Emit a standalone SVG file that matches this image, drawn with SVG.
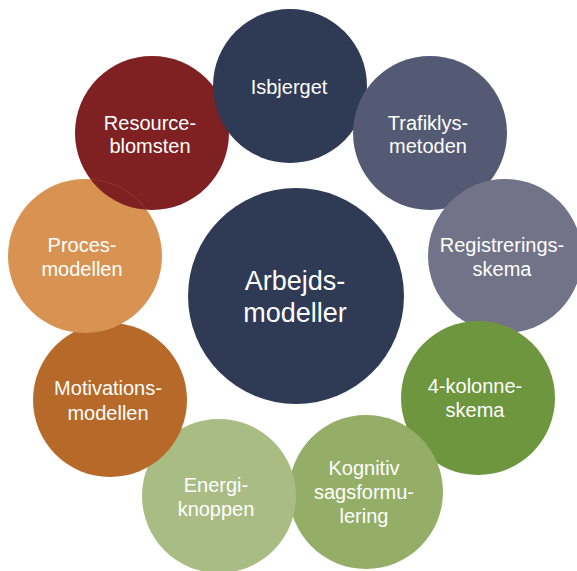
<svg xmlns="http://www.w3.org/2000/svg" width="577" height="571" viewBox="0 0 577 571">
<style>
text{font-family:"Liberation Sans",Arial,sans-serif;fill:#ffffff;text-anchor:middle;font-size:20px}
.big{font-size:27px}
</style>
<defs>
<clipPath id="clipProces"><circle cx="85" cy="256" r="77"/></clipPath>
</defs>
<rect width="577" height="571" fill="#ffffff"/>
<g id="connectors"></g>
<g id="resource">
<circle id="resourceCircle" cx="152" cy="133" r="77" fill="#7f2022"/>
<text x="150" y="130">Resource-</text>
<text x="150" y="153">blomsten</text>
</g>
<g id="isbjerget">
<circle cx="290" cy="86" r="77" fill="#2f3a55"/>
<text x="289" y="94">Isbjerget</text>
</g>
<g id="trafiklys">
<circle cx="430" cy="133" r="77" fill="#545a73"/>
<text x="428" y="130">Trafiklys-</text>
<text x="428" y="153">metoden</text>
</g>
<g id="registrering">
<circle cx="505" cy="256" r="77" fill="#727388"/>
<text x="502" y="252">Registrerings-</text>
<text x="502" y="276">skema</text>
</g>
<g id="kolonne">
<circle cx="478" cy="398" r="77" fill="#6e963e"/>
<text x="475" y="393">4-kolonne-</text>
<text x="475" y="417">skema</text>
</g>
<g id="kognitiv">
<circle cx="366" cy="492" r="77" fill="#94ae67"/>
<text x="364" y="475">Kognitiv</text>
<text x="364" y="499">sagsformu-</text>
<text x="364" y="523">lering</text>
</g>
<g id="energi">
<circle cx="219" cy="496" r="77" fill="#a9bc84"/>
<text x="216" y="492">Energi-</text>
<text x="216" y="516">knoppen</text>
</g>
<g id="motivation">
<circle cx="110" cy="400" r="77" fill="#b66929"/>
<text x="108" y="395">Motivations-</text>
<text x="108" y="420">modellen</text>
</g>
<g id="proces">
<circle cx="85" cy="256" r="77" fill="#d89352"/>
<text x="82" y="252">Proces-</text>
<text x="82" y="276">modellen</text>
</g>
<g id="resourceOverlap" clip-path="url(#clipProces)">
<circle cx="152" cy="133" r="77" fill="#7f2022"/>
</g>
<g id="center">
<circle cx="296" cy="296" r="108" fill="#2f3a55"/>
<text class="big" x="295" y="290">Arbejds-</text>
<text class="big" x="295" y="322">modeller</text>
</g>
</svg>
